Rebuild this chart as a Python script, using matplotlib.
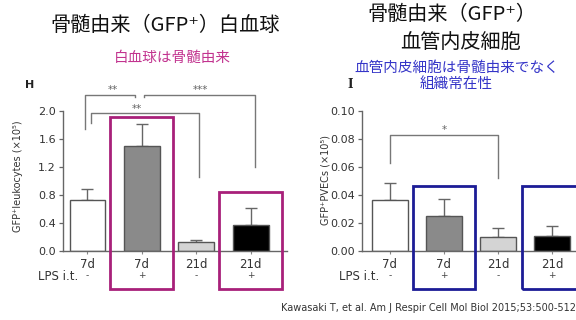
import numpy as np
import matplotlib
matplotlib.use('Agg')
import matplotlib.pyplot as plt
from matplotlib.patches import Rectangle

JP = ['Noto Sans CJK JP', 'DejaVu Sans']

# ─── Data ─────────────────────────────────────────────────────────────────────
days = ['7d', '7d', '21d', '21d']
lps = ['-', '+', '-', '+']

leuk_mean = [0.73, 1.49, 0.12, 0.37]
leuk_sem = [0.15, 0.32, 0.03, 0.24]

pvec_mean = [0.036, 0.025, 0.010, 0.0105]
pvec_sem = [0.0126, 0.0116, 0.0063, 0.0075]

bar_fc = ['white', '#8a8a8a', '#d4d4d4', 'black']
bar_ec = '#555555'

MAGENTA = '#a8207a'
NAVY = '#1c1c96'

W, H = 576, 320
fig = plt.figure(figsize=(W / 100, H / 100), dpi=100)


def px(x, y):
    return x / W, 1 - y / H


def add_axes_px(x0, y_top, x1, y_bot):
    return fig.add_axes([x0 / W, 1 - y_bot / H, (x1 - x0) / W, (y_bot - y_top) / H])


def draw_bars(ax, mean, sem):
    x = np.arange(len(mean))
    ax.bar(x, mean, width=0.66, color=bar_fc, edgecolor=bar_ec, linewidth=1.0, zorder=2)
    ax.errorbar(x, mean, yerr=[np.zeros(len(sem)), sem], fmt='none',
                ecolor='#666666', elinewidth=1.0, capsize=4.5, capthick=1.0, zorder=1)
    for s in ['top', 'right']:
        ax.spines[s].set_visible(False)
    for s in ['left', 'bottom']:
        ax.spines[s].set_color('#666666')
        ax.spines[s].set_linewidth(1.0)
    ax.set_xticks(x)
    ax.set_xticklabels(days, fontsize=8.5, color='#333333')
    ax.tick_params(axis='x', length=2, width=0.8, color='#888888', pad=3)
    ax.tick_params(axis='y', length=3, width=0.9, color='#666666',
                   labelsize=8, labelcolor='#333333', pad=2)
    for i, s in enumerate(lps):
        ax.text(i, -0.18, s, transform=ax.get_xaxis_transform(),
                ha='center', va='center', fontsize=6.5, color='#444444')


def bracket(ax, x0, x1, top, y0, y1, label, tx, ty, color='#777777'):
    ax.plot([x0, x0, x1, x1], [y0, top, top, y1], color=color, lw=1.0,
            clip_on=False, zorder=3)
    ax.text(tx, ty, label, ha='center', va='center', fontsize=7.5,
            color='#666666', clip_on=False)


def box(ax, xc, half, y0, y1, color):
    ax.add_patch(Rectangle((xc - half, y0), 2 * half, y1 - y0, fill=False,
                           edgecolor=color, linewidth=2.0, clip_on=False, zorder=4))


# ─── Panel H: GFP+ leukocytes ────────────────────────────────────────────────
axH = add_axes_px(63, 110.7, 287, 250.7)
draw_bars(axH, leuk_mean, leuk_sem)
axH.set_xlim(-0.45, 3.67)
axH.set_ylim(0, 2.0)
axH.set_yticks([0.0, 0.4, 0.8, 1.2, 1.6, 2.0])
axH.set_yticklabels(['0.0', '0.4', '0.8', '1.2', '1.6', '2.0'])

bracket(axH, -0.05, 0.875, 2.224, 1.74, 2.19, '**', 0.47, 2.29)
bracket(axH, 1.04, 3.08, 2.224, 2.19, 1.196, '***', 2.07, 2.29)
bracket(axH, 0.06, 2.05, 1.97, 1.82, 1.05, '**', 0.91, 2.03)
box(axH, 1, 0.58, -0.547, 1.914, MAGENTA)
box(axH, 3, 0.58, -0.547, 0.843, MAGENTA)

# ─── Panel I: GFP+ PVECs ─────────────────────────────────────────────────────
axI = add_axes_px(361.7, 110.7, 576, 250.7)
draw_bars(axI, pvec_mean, pvec_sem)
axI.set_xlim(-0.52, 3.44)
axI.set_ylim(0, 0.10)
axI.set_yticks([0.0, 0.02, 0.04, 0.06, 0.08, 0.10])
axI.set_yticklabels(['0.00', '0.02', '0.04', '0.06', '0.08', '0.10'])

bracket(axI, 0.0, 2.0, 0.0829, 0.063, 0.052, '*', 1.0, 0.0862)
box(axI, 1, 0.58, -0.0271, 0.0459, NAVY)
box(axI, 3, 0.56, -0.0271, 0.0459, NAVY)

# ─── Labels and titles ───────────────────────────────────────────────────────
fig.text(*px(18, 176), 'GFP⁺leukocytes (×10⁵)', rotation=90, ha='center',
         va='center', fontsize=7, color='#333333')
fig.text(*px(325, 180), 'GFP⁺PVECs (×10⁵)', rotation=90, ha='center',
         va='center', fontsize=7, color='#333333')
fig.text(*px(58, 277), 'LPS i.t.', ha='center', va='center', fontsize=8.5, color='#333333')
fig.text(*px(359, 277), 'LPS i.t.', ha='center', va='center', fontsize=8.5, color='#333333')

fig.text(*px(30, 85), 'H', ha='center', va='center', fontsize=8,
         fontweight='bold', color='#222222')
fig.text(*px(350, 85), 'I', ha='center', va='center', fontsize=8.5,
         fontweight='bold', family='DejaVu Serif', color='#222222')

fig.text(*px(165, 25), '骨髄由来（GFP⁺）白血球', ha='center', va='center',
         fontsize=14.5, family=JP, color='#111111')
fig.text(*px(172, 58), '白血球は骨髄由来', ha='center', va='center',
         fontsize=10.5, family=JP, color='#c2338f')

fig.text(*px(452, 15), '骨髄由来（GFP⁺）', ha='center', va='center',
         fontsize=14.5, family=JP, color='#111111')
fig.text(*px(461, 43), '血管内皮細胞', ha='center', va='center',
         fontsize=14.5, family=JP, color='#111111')
fig.text(*px(457, 68), '血管内皮細胞は骨髄由来でなく', ha='center', va='center',
         fontsize=10.5, family=JP, color='#3535c8')
fig.text(*px(456, 84), '組織常在性', ha='center', va='center',
         fontsize=10.5, family=JP, color='#3535c8')

fig.text(*px(576, 308), 'Kawasaki T, et al. Am J Respir Cell Mol Biol 2015;53:500-512',
         ha='right', va='center', fontsize=7, color='#333333')

fig.savefig('out.png', dpi=100)
